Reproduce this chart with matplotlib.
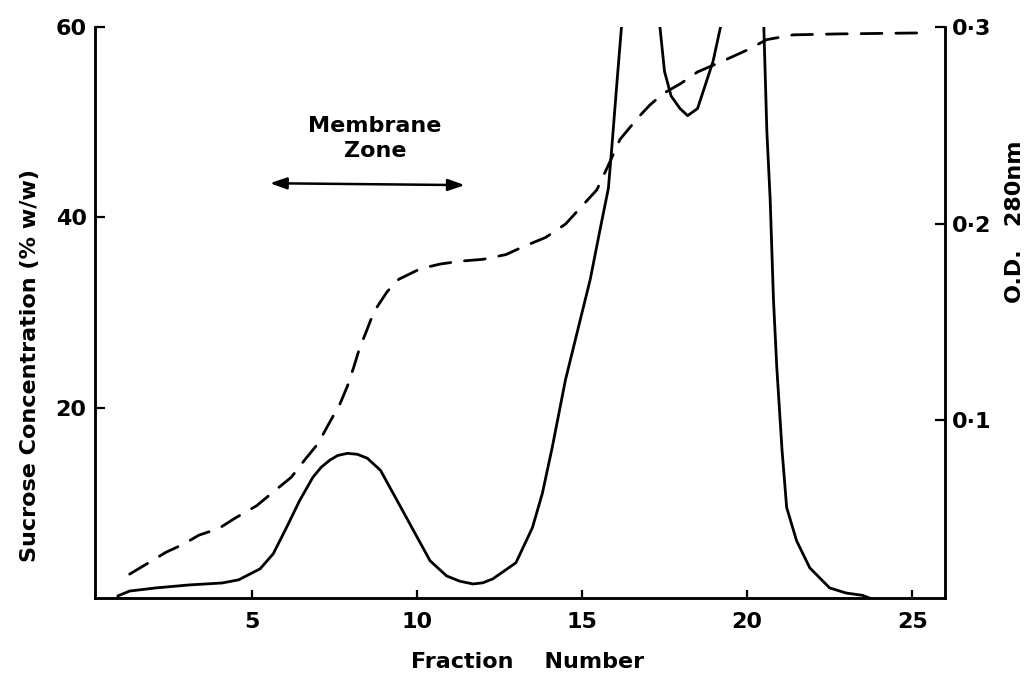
import matplotlib
matplotlib.use("Agg")
import matplotlib.pyplot as plt
import numpy as np

plt.rcParams['font.family'] = ['DejaVu Sans']

# Sucrose concentration (% w/w), dashed, left axis
suc_frac = [1.3, 1.9, 2.4, 2.9, 3.4, 4.0, 4.5, 5.15, 5.6, 6.2, 6.6, 7.0, 7.3, 7.67,
            7.9, 8.1, 8.25, 8.5, 8.7, 9.1, 9.45, 10.1, 10.7, 11.3, 12.0, 12.7, 13.2,
            13.9, 14.5, 15.0, 15.45, 15.8, 16.15, 16.7, 17.05, 17.45, 18.0, 18.5,
            19.3, 20.0, 20.6, 21.4, 22.8, 25.2]
suc_val = [2.5, 3.75, 4.8, 5.6, 6.6, 7.3, 8.4, 9.7, 11.0, 12.7, 14.5, 16.2, 18.1, 20.4,
           22.3, 24.4, 26.1, 28.3, 30.1, 32.2, 33.5, 34.6, 35.1, 35.4, 35.6, 36.1, 36.9,
           37.9, 39.3, 41.2, 42.9, 45.5, 48.2, 50.5, 51.8, 53.0, 54.1, 55.3,
           56.5, 57.6, 58.7, 59.2, 59.3, 59.4]

# O.D. 280 nm, solid, right axis (three traced segments; off-scale between them)
od1_frac = [0.94, 1.3, 2.1, 3.1, 4.1, 4.6, 5.25, 5.65, 6.05, 6.45, 6.85, 7.1, 7.36, 7.6,
            7.9, 8.2, 8.5, 8.9, 9.2, 9.4, 9.9, 10.4, 10.9, 11.3, 11.7, 12.0, 12.3,
            13.0, 13.5, 13.8, 14.1, 14.5, 14.95, 15.25, 15.55, 15.8, 15.9, 16.06, 16.22]
od1_val = [0.0105, 0.013, 0.0146, 0.0161, 0.0171, 0.0187, 0.0243, 0.032, 0.0453,
           0.0591, 0.0709, 0.0760, 0.0796, 0.0820, 0.0831, 0.0826, 0.0806, 0.0744,
           0.0652, 0.0591, 0.0437, 0.0284, 0.0207, 0.0180, 0.0166, 0.0172, 0.0192,
           0.0274, 0.0453, 0.0627, 0.0862, 0.1205, 0.1512, 0.1716, 0.1972, 0.218,
           0.238, 0.272, 0.305]
od2_frac = [17.35, 17.5, 17.7, 17.97, 18.2, 18.5, 18.7, 18.97, 19.22]
od2_val = [0.302, 0.2775, 0.265, 0.2586, 0.255, 0.2586, 0.2688, 0.2826, 0.302]
od3_frac = [20.5, 20.6, 20.7, 20.8, 20.9, 21.06, 21.2, 21.5, 21.9, 22.5, 23.0, 23.5,
            24.0, 24.4]
od3_val = [0.305, 0.247, 0.2125, 0.1614, 0.1271, 0.0847, 0.0555, 0.0386, 0.0248,
           0.0146, 0.012, 0.0108, 0.0075, 0.004]

x_ticks = [5, 10, 15, 20, 25]
left_ticks = [20, 40, 60]
right_ticks = [0.1, 0.2, 0.3]
right_labels = ['0·1', '0·2', '0·3']

FS = 16
fig = plt.figure(figsize=(10.28, 6.81), dpi=100)
ax = fig.add_axes([0.0924, 0.122, 0.827, 0.838])
ax2 = ax.twinx()

lw = 2.0
ax.plot(suc_frac, suc_val, color='black', lw=lw, linestyle=(0, (7.5, 5.0)),
        dash_capstyle='round')
for f, v in [(od1_frac, od1_val), (od2_frac, od2_val), (od3_frac, od3_val)]:
    ax2.plot(f, v, color='black', lw=lw, solid_capstyle='round', solid_joinstyle='round')

ax.set_xlim(0.25, 26.0)
ax.set_ylim(0, 60)
ax2.set_ylim(0.0095, 0.3)

for a in (ax, ax2):
    a.spines['top'].set_visible(False)
    for s in ('left', 'right', 'bottom'):
        a.spines[s].set_linewidth(1.8)

ax.set_xticks(x_ticks)
ax.set_xticklabels([str(t) for t in x_ticks])
ax.set_yticks(left_ticks)
ax.set_yticklabels([str(t) for t in left_ticks])
ax2.set_yticks(right_ticks)
ax2.set_yticklabels(right_labels)

ax.tick_params(axis='x', direction='in', length=6, width=1.6, pad=10, labelsize=FS)
ax.tick_params(axis='y', direction='in', length=7, width=1.6, pad=6, labelsize=FS)
ax2.tick_params(axis='y', direction='in', length=7, width=1.6, pad=5, labelsize=FS)

for lab in ax.get_xticklabels() + ax.get_yticklabels() + ax2.get_yticklabels():
    lab.set_fontweight('bold')

fig.text(30 / 1028, 1 - 365 / 681, 'Sucrose Concentration (% w/w)', rotation=90,
         ha='center', va='center', fontsize=FS, fontweight='bold')
fig.text(1015 / 1028, 1 - 222 / 681, 'O.D.   280nm', rotation=90,
         ha='center', va='center', fontsize=FS, fontweight='bold')
fig.text(528 / 1028, 1 - 662 / 681, 'Fraction    Number',
         ha='center', va='center', fontsize=FS, fontweight='bold')

ax.text(8.73, 48.3, 'Membrane\nZone', ha='center', va='center', fontsize=FS,
        fontweight='bold', linespacing=1.3)
ax.annotate('', xy=(5.55, 43.6), xytext=(11.45, 43.4),
            arrowprops=dict(arrowstyle='<|-|>,head_length=1.0,head_width=0.35',
                            color='black', lw=1.8, shrinkA=0, shrinkB=0))

fig.savefig('out.png', dpi=100)
